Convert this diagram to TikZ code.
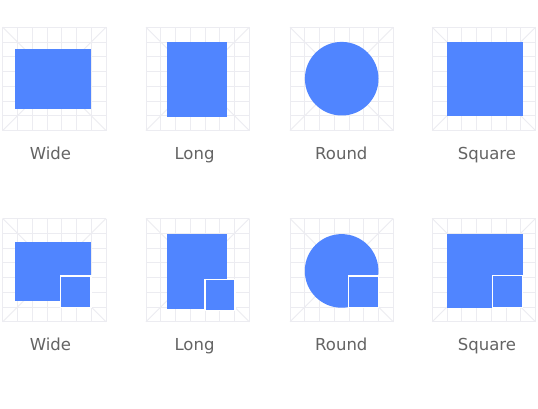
\documentclass[tikz,border=0pt]{standalone}
\usepackage{fontspec}
\setmainfont{DejaVu Sans}
\definecolor{blu}{RGB}{80,133,255}
\definecolor{gridc}{RGB}{236,236,241}
\definecolor{txt}{RGB}{100,100,100}
\tikzset{
  gridline/.style={draw=gridc, line width=0.9pt},
  shapefill/.style={fill=blu},
  badge/.style={fill=blu, draw=white, line width=1.3pt},
  lbl/.style={text=txt, font=\fontsize{16.5}{19}\selectfont, anchor=base, inner sep=0pt}
}
\begin{document}
\begin{tikzpicture}[x=1pt,y=-1pt]
\useasboundingbox (0,0) rectangle (538,409);
\fill[white] (0,0) rectangle (538,409);
% keyline grids
\foreach \ox in {2.7,146,290,432.3}{
  \foreach \oy in {27.3,218.5}{
    \foreach \i in {0,...,7}{
      \draw[gridline] ({\ox+\i*14.75},\oy) -- ({\ox+\i*14.75},{\oy+103.25});
      \draw[gridline] (\ox,{\oy+\i*14.75}) -- ({\ox+103.25},{\oy+\i*14.75});
    }
    \draw[gridline] (\ox,\oy) -- ({\ox+103.25},{\oy+103.25});
    \draw[gridline] ({\ox+103.25},\oy) -- (\ox,{\oy+103.25});
  }
}
% row 1 shapes
\fill[shapefill] (15,49) rectangle (91,109);
\fill[shapefill] (167,42) rectangle (227,117);
\fill[shapefill] (341.7,78.7) circle (36.8);
\fill[shapefill] (447,42) rectangle (522.5,116);
% row 2 shapes
\fill[shapefill] (15,241.5) rectangle (91,301);
\filldraw[badge] (60.8,276) rectangle (91,307.3);
\fill[shapefill] (167,234) rectangle (227,309);
\filldraw[badge] (205,279.7) rectangle (235,310.5);
\fill[shapefill] (341.6,270.9) circle (36.8);
\filldraw[badge] (348.3,276) rectangle (378.3,307.7);
\fill[shapefill] (447,233.5) rectangle (522.7,307.7);
\filldraw[badge] (492.7,275.7) rectangle (522.7,307.7);
% labels
\node[lbl] (w1) at (50.5,159.3) {Wide};
\node[lbl] (l1) at (194.5,159.3) {Long};
\node[lbl] (r1) at (341.3,159.3) {Round};
\node[lbl] (s1) at (487,159.3) {Square};
\node[lbl] (w2) at (50.5,350.8) {Wide};
\node[lbl] (l2) at (194.5,350.8) {Long};
\node[lbl] (r2) at (341.3,350.8) {Round};
\node[lbl] (s2) at (487,350.8) {Square};
\end{tikzpicture}
\end{document}
